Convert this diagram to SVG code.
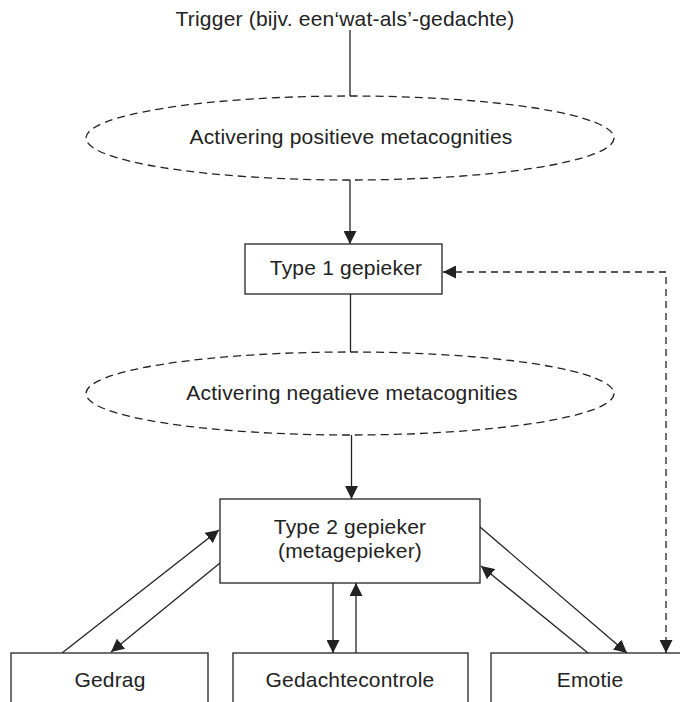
<svg xmlns="http://www.w3.org/2000/svg" width="680" height="702" viewBox="0 0 680 702">
<style>
text{font-family:"Liberation Sans",Arial,sans-serif;font-size:21px;fill:#222;text-anchor:middle;letter-spacing:0.2px}
.box{fill:#fff;stroke:#222;stroke-width:1.3}
.ell{fill:none;stroke:#222;stroke-width:1.3;stroke-dasharray:8 5}
.ln{fill:none;stroke:#222;stroke-width:1.3}
.arr{marker-end:url(#ah)}
.dash{stroke-dasharray:7 5}
</style>
<defs>
<marker id="ah" viewBox="0 0 12 12" refX="12" refY="6" markerWidth="13" markerHeight="13" markerUnits="userSpaceOnUse" orient="auto-start-reverse">
<path d="M0 0 L12 6 L0 12 Z" fill="#222"/>
</marker>
</defs>
<rect width="680" height="702" fill="#fff"/>
<g id="connectors">
<line class="ln" x1="350" y1="30" x2="350" y2="96"/>
<line class="ln arr" x1="350" y1="180" x2="350" y2="244"/>
<line class="ln" x1="350.5" y1="294" x2="350.5" y2="352"/>
<line class="ln arr" x1="351.5" y1="435" x2="351.5" y2="499"/>
<line class="ln arr" x1="62" y1="653" x2="219" y2="530"/>
<line class="ln arr" x1="220" y1="563" x2="111" y2="652"/>
<line class="ln arr" x1="333" y1="583" x2="333" y2="653"/>
<line class="ln arr" x1="356" y1="653" x2="356" y2="583"/>
<line class="ln arr" x1="480" y1="527" x2="627" y2="653"/>
<line class="ln arr" x1="588" y1="653" x2="481" y2="566"/>
<path class="ln dash" d="M443 272 H666 V653" marker-start="url(#ah)" marker-end="url(#ah)"/>
</g>
<g id="trigger">
<text x="345" y="26">Trigger (bijv. een‘wat-als’-gedachte)</text>
</g>
<g id="pos-meta">
<ellipse class="ell" cx="350" cy="138" rx="264" ry="42"/>
<text x="351" y="144">Activering positieve metacognities</text>
</g>
<g id="type1">
<rect class="box" x="245" y="244" width="197" height="50"/>
<text x="346" y="275">Type 1 gepieker</text>
</g>
<g id="neg-meta">
<ellipse class="ell" cx="350" cy="393.5" rx="264" ry="41.5"/>
<text x="352" y="400">Activering negatieve metacognities</text>
</g>
<g id="type2">
<rect class="box" x="220" y="499" width="260" height="84"/>
<text x="350" y="534">Type 2 gepieker</text>
<text x="350" y="558">(metagepieker)</text>
</g>
<g id="gedrag">
<rect class="box" x="11" y="653" width="197" height="60"/>
<text x="110" y="687">Gedrag</text>
</g>
<g id="gedachtecontrole">
<rect class="box" x="233" y="653" width="235" height="60"/>
<text x="350" y="687">Gedachtecontrole</text>
</g>
<g id="emotie">
<rect class="box" x="491" y="653" width="200" height="60"/>
<text x="590" y="687">Emotie</text>
</g>
</svg>
